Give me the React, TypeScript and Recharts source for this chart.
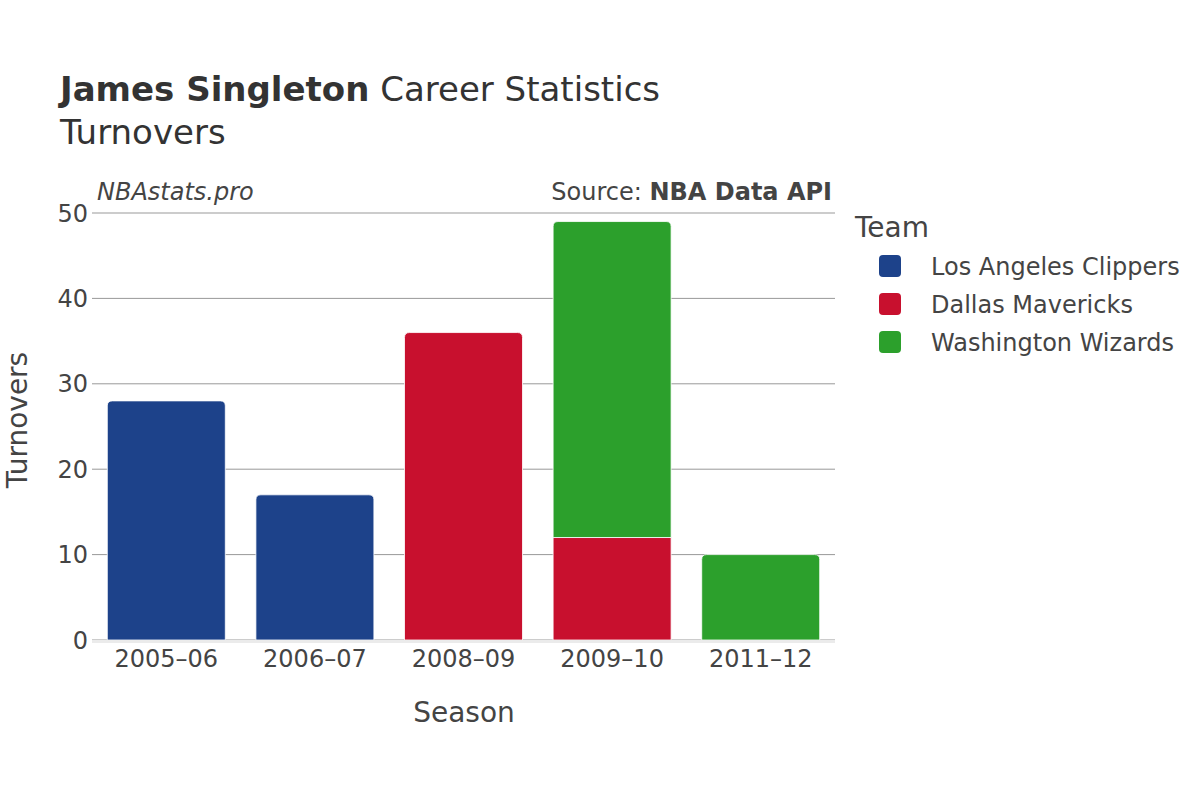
import { BarChart, Bar, XAxis, YAxis, CartesianGrid, ReferenceLine } from "recharts"

const seasons = ["2005–06", "2006–07", "2008–09", "2009–10", "2011–12"]
const clippers = [28, 17, null, null, null]
const mavericks = [null, null, 36, 12, null]
const wizards = [null, null, null, 37, 10]
const yTicks = [0, 10, 20, 30, 40, 50]

const teamKeys = ["lac", "dal", "was"]
const teamNames = ["Los Angeles Clippers", "Dallas Mavericks", "Washington Wizards"]
const teamColors: Record<string, string> = {
  lac: "#1d428a",
  dal: "#c8102e",
  was: "#2ca02c",
}

const data = seasons.map((season, i) => ({
  season,
  lac: clippers[i],
  dal: mavericks[i],
  was: wizards[i],
}))

const FONT = "'DejaVu Sans', sans-serif"

// rounds the top corners only when nothing is stacked above this segment
function makeShape(key: string) {
  const idx = teamKeys.indexOf(key)
  return (props: any) => {
    const { x, y, width, height, fill, payload } = props
    if (!height || height <= 0) return <g />
    const above = teamKeys.slice(idx + 1).some((k) => payload[k] != null && payload[k] > 0)
    const r = above ? 0 : Math.min(5, height)
    const d = `M${x},${y + height} L${x},${y + r} Q${x},${y} ${x + r},${y} L${x + width - r},${y} Q${x + width},${y} ${x + width},${y + r} L${x + width},${y + height} Z`
    return <path d={d} fill={fill} stroke="#ffffff" strokeWidth={1} strokeOpacity={0.8} />
  }
}

// zero line sits just below the bars
const ZeroBand = (p: any) => {
  const x1 = p.x1 ?? p.points?.[0]?.x
  const x2 = p.x2 ?? p.points?.[1]?.x
  const y = (p.y1 ?? p.points?.[0]?.y) + 1.5
  return <line x1={x1} x2={x2} y1={y} y2={y} stroke="#ebebeb" strokeWidth={3} />
}

export default function App() {
  return (
    <div style={{ position: "absolute", left: 0, top: 0, width: 1200, height: 800, background: "#fff" }}>
      <BarChart
        width={1200}
        height={800}
        data={data}
        margin={{ top: 213, right: 365, bottom: 130, left: 0 }}
        barCategoryGap="10.3%"
      >
        <CartesianGrid vertical={false} stroke="#999999" strokeWidth={1} />
        <XAxis
          dataKey="season"
          height={30}
          tickLine={false}
          tickSize={0}
          tickMargin={10}
          axisLine={false}
          tick={{ fontSize: 24, fill: "#444", fontFamily: FONT }}
        />
        <YAxis
          width={92}
          domain={[0, 50]}
          ticks={yTicks}
          tickLine={false}
          axisLine={false}
          tickSize={0}
          tickMargin={4}
          tick={{ fontSize: 24, fill: "#444", fontFamily: FONT }}
        />
        <ReferenceLine y={0} shape={ZeroBand} />
        {teamKeys.map((k, i) => (
          <Bar
            key={k}
            dataKey={k}
            name={teamNames[i]}
            stackId="a"
            fill={teamColors[k]}
            shape={makeShape(k)}
            isAnimationActive={false}
          />
        ))}
      </BarChart>
      <svg
        width={1200}
        height={800}
        style={{ position: "absolute", left: 0, top: 0, pointerEvents: "none" }}
        fontFamily={FONT}
      >
        <text x={60} y={101} fontSize={34} fill="#333">
          <tspan fontWeight="bold">James Singleton</tspan>
          <tspan> Career Statistics</tspan>
        </text>
        <text x={60} y={144} fontSize={34} fill="#333">
          Turnovers
        </text>
        <text x={97} y={200} fontSize={24} fontStyle="italic" fill="#444">
          NBAstats.pro
        </text>
        <text x={832} y={200} fontSize={24} fill="#444" textAnchor="end">
          <tspan>Source: </tspan>
          <tspan fontWeight="bold">NBA Data API</tspan>
        </text>
        <text x={464} y={722} fontSize={28} fill="#444" textAnchor="middle">
          Season
        </text>
        <text
          x={27}
          y={420}
          fontSize={28}
          fill="#444"
          textAnchor="middle"
          transform="rotate(-90 27 420)"
        >
          Turnovers
        </text>
        <text x={855} y={237} fontSize={28} fill="#444">
          Team
        </text>
        {teamKeys.map((k, i) => (
          <g key={k}>
            <rect x={879} y={255 + i * 38} width={22} height={22} rx={4} fill={teamColors[k]} />
            <text x={931} y={275 + i * 38} fontSize={24} fill="#444">
              {teamNames[i]}
            </text>
          </g>
        ))}
      </svg>
    </div>
  )
}
